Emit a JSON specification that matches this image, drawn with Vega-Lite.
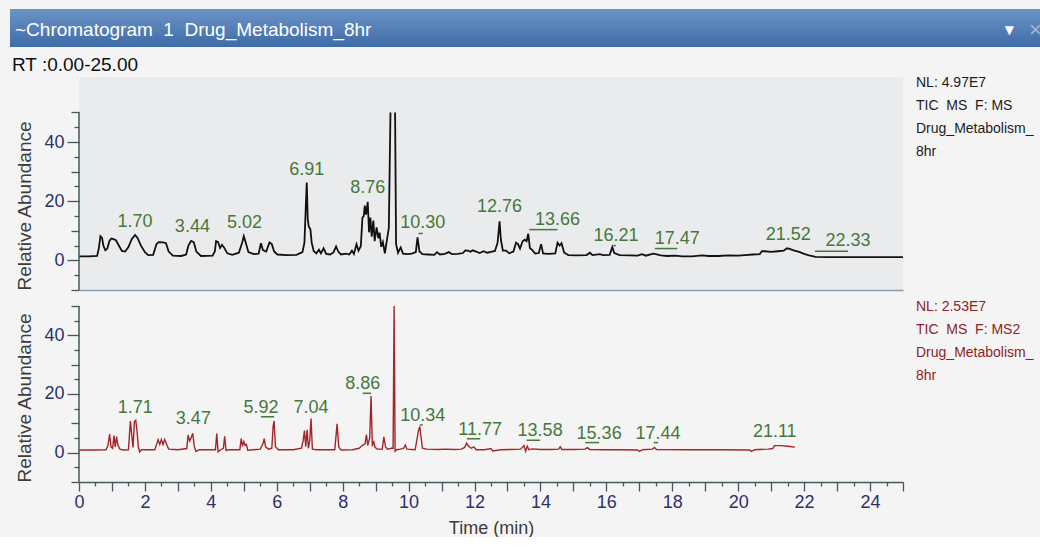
{
  "$schema": "https://vega.github.io/schema/vega-lite/v6.json",
  "background": "#f4f4f4",
  "padding": {"left": 9, "top": 9, "right": 0, "bottom": 0},
  "spacing": 9,
  "config": {
    "view": {"stroke": null},
    "font": "Liberation Sans",
    "axis": {"labelFont": "Liberation Sans", "titleFont": "Liberation Sans", "grid": false},
    "title": {"font": "Liberation Sans"},
    "text": {"font": "Liberation Sans"}
  },
  "datasets": {
    "header": [{"title": "~Chromatogram\u00a0 1\u00a0 Drug_Metabolism_8hr", "menu": "\u25bc", "close": "\u00d7"}],
    "topInfo": [
      {"line": 0, "text": "NL: 4.97E7"},
      {"line": 1, "text": "TIC\u00a0 MS\u00a0 F: MS"},
      {"line": 2, "text": "Drug_Metabolism_"},
      {"line": 3, "text": "8hr"}
    ],
    "bottomInfo": [
      {"line": 0, "text": "NL: 2.53E7"},
      {"line": 1, "text": "TIC\u00a0 MS\u00a0 F: MS2"},
      {"line": 2, "text": "Drug_Metabolism_"},
      {"line": 3, "text": "8hr"}
    ],
    "topPeaks": [
      {"rt": 1.70, "label": "1.70", "level": 11.4, "at": 1.70},
      {"rt": 3.44, "label": "3.44", "level": 9.7, "at": 3.44},
      {"rt": 5.02, "label": "5.02", "level": 10.8, "at": 5.02},
      {"rt": 6.91, "label": "6.91", "level": 28.9, "at": 6.91},
      {"rt": 8.76, "label": "8.76", "level": 22.7, "at": 8.76},
      {"rt": 10.30, "label": "10.30", "level": 10.8, "at": 10.43},
      {"rt": 12.76, "label": "12.76", "level": 16.5, "at": 12.76},
      {"rt": 13.66, "label": "13.66", "level": 12.1, "at": 14.52},
      {"rt": 16.21, "label": "16.21", "level": 6.7, "at": 16.29},
      {"rt": 17.47, "label": "17.47", "level": 5.7, "at": 18.15},
      {"rt": 21.52, "label": "21.52", "level": 7.0, "at": 21.52},
      {"rt": 22.33, "label": "22.33", "level": 4.8, "at": 23.33}
    ],
    "bottomPeaks": [
      {"rt": 1.71, "label": "1.71", "level": 13.6, "at": 1.71},
      {"rt": 3.47, "label": "3.47", "level": 9.7, "at": 3.47},
      {"rt": 5.92, "label": "5.92", "level": 13.6, "at": 5.52},
      {"rt": 7.04, "label": "7.04", "level": 13.6, "at": 7.04},
      {"rt": 8.86, "label": "8.86", "level": 21.6, "at": 8.61},
      {"rt": 10.34, "label": "10.34", "level": 10.8, "at": 10.43},
      {"rt": 11.77, "label": "11.77", "level": 6.1, "at": 12.17},
      {"rt": 13.58, "label": "13.58", "level": 5.6, "at": 13.99},
      {"rt": 15.36, "label": "15.36", "level": 4.8, "at": 15.78},
      {"rt": 17.44, "label": "17.44", "level": 4.8, "at": 17.57},
      {"rt": 21.11, "label": "21.11", "level": 5.2, "at": 21.11}
    ],
    "topTrace": [
      {"t":0,"v":1.4},{"t":0.3,"v":1.4},{"t":0.55,"v":1.5},{"t":0.6,"v":4},{"t":0.65,"v":8.2},{"t":0.7,"v":7.6},{"t":0.74,"v":5},{"t":0.8,"v":3.4},{"t":0.86,"v":4},{"t":0.92,"v":6.5},{"t":0.98,"v":7.4},{"t":1.05,"v":7.2},{"t":1.12,"v":6.8},{"t":1.2,"v":5.2},{"t":1.3,"v":3.2},{"t":1.4,"v":3},{"t":1.5,"v":4.5},{"t":1.6,"v":7.2},{"t":1.7,"v":8.6},{"t":1.78,"v":7.5},{"t":1.88,"v":5},{"t":2.0,"v":2.8},{"t":2.1,"v":1.8},{"t":2.25,"v":1.9},{"t":2.35,"v":5.5},{"t":2.42,"v":6.2},{"t":2.55,"v":6.1},{"t":2.64,"v":5.8},{"t":2.72,"v":3},{"t":2.85,"v":1.6},{"t":3.1,"v":1.5},{"t":3.25,"v":2},{"t":3.32,"v":5},{"t":3.4,"v":6.6},{"t":3.48,"v":6.2},{"t":3.56,"v":3},{"t":3.7,"v":1.5},{"t":4.05,"v":1.6},{"t":4.12,"v":3},{"t":4.16,"v":6.5},{"t":4.22,"v":6.2},{"t":4.28,"v":4.2},{"t":4.34,"v":5.3},{"t":4.4,"v":4.4},{"t":4.5,"v":2.4},{"t":4.65,"v":1.9},{"t":4.85,"v":2.6},{"t":4.95,"v":6},{"t":5.0,"v":8.2},{"t":5.06,"v":6},{"t":5.14,"v":2.8},{"t":5.3,"v":2.1},{"t":5.45,"v":2.3},{"t":5.52,"v":5.8},{"t":5.58,"v":3.5},{"t":5.68,"v":3},{"t":5.78,"v":6.1},{"t":5.85,"v":5.5},{"t":5.92,"v":3},{"t":6.02,"v":2},{"t":6.3,"v":1.8},{"t":6.6,"v":1.9},{"t":6.78,"v":2.8},{"t":6.84,"v":6},{"t":6.88,"v":18},{"t":6.91,"v":26.3},{"t":6.94,"v":14},{"t":6.97,"v":11.5},{"t":7.02,"v":10.5},{"t":7.06,"v":6},{"t":7.12,"v":3.2},{"t":7.2,"v":2.4},{"t":7.28,"v":3.6},{"t":7.34,"v":2.4},{"t":7.42,"v":4.1},{"t":7.5,"v":2.2},{"t":7.62,"v":2},{"t":7.72,"v":2.7},{"t":7.8,"v":4.7},{"t":7.87,"v":2.9},{"t":7.95,"v":2},{"t":8.1,"v":2.3},{"t":8.2,"v":2},{"t":8.28,"v":3.3},{"t":8.34,"v":2.2},{"t":8.42,"v":5.5},{"t":8.48,"v":3.3},{"t":8.55,"v":4.8},{"t":8.6,"v":14.5},{"t":8.64,"v":15},{"t":8.67,"v":18.5},{"t":8.71,"v":15.5},{"t":8.76,"v":19.8},{"t":8.8,"v":9.5},{"t":8.84,"v":14.5},{"t":8.88,"v":8},{"t":8.93,"v":13.5},{"t":8.97,"v":6.5},{"t":9.03,"v":11.2},{"t":9.08,"v":7.5},{"t":9.12,"v":9.4},{"t":9.17,"v":4.6},{"t":9.22,"v":6.2},{"t":9.28,"v":2.4},{"t":9.33,"v":6},{"t":9.4,"v":11},{"t":9.45,"v":50},{"t":9.52,"v":null},{"t":9.59,"v":50},{"t":9.62,"v":5.5},{"t":9.68,"v":2.6},{"t":9.76,"v":4.4},{"t":9.83,"v":2.3},{"t":9.95,"v":2.1},{"t":10.1,"v":2.3},{"t":10.22,"v":2.8},{"t":10.27,"v":7.8},{"t":10.33,"v":3},{"t":10.42,"v":2.1},{"t":10.6,"v":2},{"t":10.78,"v":1.9},{"t":10.86,"v":2.8},{"t":10.95,"v":2},{"t":11.1,"v":2.2},{"t":11.22,"v":2.8},{"t":11.32,"v":2.1},{"t":11.5,"v":2.2},{"t":11.65,"v":2.5},{"t":11.72,"v":3.4},{"t":11.8,"v":3.3},{"t":11.88,"v":2.9},{"t":11.95,"v":3.4},{"t":12.05,"v":3},{"t":12.15,"v":2.5},{"t":12.28,"v":3.1},{"t":12.38,"v":2.6},{"t":12.5,"v":2.9},{"t":12.62,"v":3.2},{"t":12.7,"v":6},{"t":12.76,"v":13.2},{"t":12.8,"v":7},{"t":12.86,"v":3.3},{"t":12.96,"v":3.3},{"t":13.05,"v":2.4},{"t":13.18,"v":3},{"t":13.26,"v":6},{"t":13.32,"v":5.5},{"t":13.38,"v":4},{"t":13.46,"v":6.5},{"t":13.52,"v":7},{"t":13.58,"v":6.5},{"t":13.63,"v":9},{"t":13.68,"v":4.2},{"t":13.76,"v":3.4},{"t":13.84,"v":2.3},{"t":13.95,"v":2.5},{"t":14.02,"v":5.5},{"t":14.08,"v":2.4},{"t":14.25,"v":2.2},{"t":14.45,"v":2.4},{"t":14.52,"v":6},{"t":14.58,"v":5},{"t":14.64,"v":5.8},{"t":14.72,"v":2.6},{"t":14.85,"v":1.8},{"t":15.1,"v":1.7},{"t":15.4,"v":1.8},{"t":15.5,"v":2.6},{"t":15.58,"v":1.8},{"t":15.8,"v":2.1},{"t":15.9,"v":1.8},{"t":16.1,"v":1.9},{"t":16.18,"v":4.5},{"t":16.24,"v":2.5},{"t":16.4,"v":1.8},{"t":16.7,"v":1.7},{"t":16.95,"v":1.6},{"t":17.08,"v":2.1},{"t":17.2,"v":1.6},{"t":17.42,"v":2.3},{"t":17.5,"v":2.1},{"t":17.65,"v":1.7},{"t":17.85,"v":1.5},{"t":18.1,"v":1.6},{"t":18.3,"v":1.4},{"t":18.6,"v":1.4},{"t":18.9,"v":1.7},{"t":19.1,"v":1.5},{"t":19.4,"v":1.5},{"t":19.7,"v":1.7},{"t":20.0,"v":1.6},{"t":20.2,"v":1.8},{"t":20.45,"v":2},{"t":20.65,"v":2.1},{"t":20.72,"v":3.1},{"t":20.8,"v":3.1},{"t":21.0,"v":2.9},{"t":21.2,"v":3.1},{"t":21.38,"v":3.3},{"t":21.48,"v":4.1},{"t":21.56,"v":3.9},{"t":21.68,"v":3.4},{"t":21.85,"v":2.9},{"t":22.0,"v":2.2},{"t":22.15,"v":1.7},{"t":22.35,"v":1.2},{"t":22.7,"v":1.1},{"t":23.2,"v":1.1},{"t":24.0,"v":1.1},{"t":25.0,"v":1.1}
    ],
    "bottomTrace": [
      {"t":0,"v":0.9},{"t":0.5,"v":0.9},{"t":0.82,"v":1},{"t":0.88,"v":2.5},{"t":0.93,"v":6.3},{"t":0.97,"v":2},{"t":1.02,"v":1.5},{"t":1.06,"v":5.8},{"t":1.1,"v":2},{"t":1.14,"v":5.5},{"t":1.18,"v":2.6},{"t":1.24,"v":1.2},{"t":1.35,"v":0.9},{"t":1.5,"v":1},{"t":1.53,"v":6},{"t":1.56,"v":10.8},{"t":1.6,"v":6},{"t":1.64,"v":1.8},{"t":1.68,"v":10.5},{"t":1.72,"v":11},{"t":1.76,"v":7.5},{"t":1.8,"v":2},{"t":1.84,"v":0.3},{"t":1.9,"v":1},{"t":2.3,"v":1},{"t":2.36,"v":3},{"t":2.4,"v":4.4},{"t":2.45,"v":2.8},{"t":2.5,"v":4.5},{"t":2.55,"v":2.8},{"t":2.6,"v":4.5},{"t":2.66,"v":2.8},{"t":2.72,"v":1.2},{"t":3.0,"v":1},{"t":3.27,"v":1.4},{"t":3.31,"v":6},{"t":3.36,"v":4},{"t":3.4,"v":5},{"t":3.45,"v":6.6},{"t":3.5,"v":2},{"t":3.55,"v":0.4},{"t":3.65,"v":1},{"t":4.14,"v":1},{"t":4.18,"v":6.5},{"t":4.22,"v":0.3},{"t":4.3,"v":1},{"t":4.38,"v":1.5},{"t":4.42,"v":5.6},{"t":4.46,"v":0.8},{"t":4.55,"v":1},{"t":4.88,"v":1},{"t":4.92,"v":4.8},{"t":4.96,"v":2.2},{"t":5.0,"v":3.8},{"t":5.04,"v":2.5},{"t":5.08,"v":2.8},{"t":5.12,"v":0.8},{"t":5.5,"v":1.2},{"t":5.58,"v":3},{"t":5.62,"v":4.8},{"t":5.66,"v":2},{"t":5.75,"v":1.2},{"t":5.85,"v":1.5},{"t":5.89,"v":9},{"t":5.92,"v":10.8},{"t":5.96,"v":2},{"t":6.05,"v":1},{"t":6.5,"v":1},{"t":6.75,"v":1.5},{"t":6.8,"v":4},{"t":6.84,"v":7.5},{"t":6.88,"v":2},{"t":6.92,"v":7.8},{"t":6.96,"v":1.5},{"t":7.0,"v":4},{"t":7.04,"v":11.6},{"t":7.08,"v":1.2},{"t":7.2,"v":1},{"t":7.76,"v":1},{"t":7.8,"v":6},{"t":7.83,"v":9.8},{"t":7.88,"v":2},{"t":7.95,"v":0.9},{"t":8.3,"v":1},{"t":8.5,"v":1.5},{"t":8.6,"v":2.5},{"t":8.68,"v":3},{"t":8.72,"v":6.2},{"t":8.76,"v":2.5},{"t":8.82,"v":5},{"t":8.86,"v":19.3},{"t":8.9,"v":2.2},{"t":8.94,"v":4},{"t":8.98,"v":1.8},{"t":9.05,"v":1.2},{"t":9.2,"v":1.2},{"t":9.25,"v":5.4},{"t":9.3,"v":2},{"t":9.36,"v":1.2},{"t":9.48,"v":1.5},{"t":9.53,"v":1.5},{"t":9.56,"v":50},{"t":9.59,"v":0.5},{"t":9.64,"v":1},{"t":9.75,"v":1.2},{"t":9.85,"v":1.5},{"t":9.9,"v":2.6},{"t":9.95,"v":1.2},{"t":10.2,"v":1},{"t":10.26,"v":5},{"t":10.3,"v":7.5},{"t":10.34,"v":8.9},{"t":10.38,"v":5},{"t":10.42,"v":1.5},{"t":10.55,"v":1.2},{"t":10.9,"v":1.1},{"t":11.1,"v":1.2},{"t":11.4,"v":1.1},{"t":11.6,"v":1.2},{"t":11.7,"v":1.8},{"t":11.76,"v":3.2},{"t":11.82,"v":2.2},{"t":11.9,"v":1.5},{"t":11.98,"v":2},{"t":12.05,"v":1},{"t":12.3,"v":1},{"t":12.5,"v":1.4},{"t":12.55,"v":0.6},{"t":12.8,"v":1},{"t":13.1,"v":1.1},{"t":13.4,"v":1.2},{"t":13.5,"v":2.4},{"t":13.55,"v":0.5},{"t":13.6,"v":2.2},{"t":13.65,"v":1},{"t":13.75,"v":1.3},{"t":14.0,"v":1.1},{"t":14.3,"v":1.1},{"t":14.55,"v":1.2},{"t":14.6,"v":2},{"t":14.65,"v":1.1},{"t":15.0,"v":1.1},{"t":15.35,"v":1.2},{"t":15.42,"v":1.7},{"t":15.5,"v":1.1},{"t":16.0,"v":1},{"t":16.5,"v":1},{"t":16.95,"v":0.9},{"t":17.0,"v":0.4},{"t":17.1,"v":1},{"t":17.4,"v":1.2},{"t":17.46,"v":1.8},{"t":17.52,"v":1.1},{"t":18.5,"v":1},{"t":19.5,"v":1},{"t":20.35,"v":0.9},{"t":20.4,"v":0.4},{"t":20.5,"v":1},{"t":20.9,"v":1.2},{"t":21.05,"v":1.4},{"t":21.1,"v":2.4},{"t":21.3,"v":2.4},{"t":21.5,"v":2.2},{"t":21.72,"v":1.9}
    ]
  },
  "vconcat": [
    {
      "width": 962,
      "height": 38,
      "data": {"name": "header"},
      "layer": [
        {
          "mark": {"type": "rect", "color": {"gradient": "linear", "x1": 0, "y1": 0, "x2": 0, "y2": 1, "stops": [{"offset": 0, "color": "#6c93c6"}, {"offset": 0.5, "color": "#5580b8"}, {"offset": 1, "color": "#3e6ba6"}]}},
          "encoding": {"x": {"datum": -0.07173, "type": "quantitative", "scale": {"domain": [0, 1], "nice": false, "zero": false}, "axis": null}, "x2": {"datum": 1}}
        },
        {
          "mark": {"type": "text", "align": "left", "baseline": "middle", "fontSize": 19, "color": "#ffffff", "dx": 5, "dy": 2},
          "encoding": {"text": {"field": "title"}, "x": {"datum": -0.07173, "type": "quantitative"}}
        },
        {
          "mark": {"type": "text", "align": "right", "baseline": "middle", "fontSize": 12, "color": "#ffffff", "dx": -27, "dy": 2, "font": "DejaVu Sans"},
          "encoding": {"text": {"field": "menu"}, "x": {"datum": 1, "type": "quantitative"}}
        },
        {
          "mark": {"type": "text", "align": "left", "baseline": "middle", "fontSize": 22, "color": "#a4b8d3", "dx": -12, "dy": 2},
          "encoding": {"text": {"field": "close"}, "x": {"datum": 1, "type": "quantitative"}}
        }
      ]
    },
    {
      "hconcat": [
        {
          "width": 824,
          "height": 213,
          "title": {"text": "RT :0.00-25.00", "anchor": "start", "frame": "bounds", "fontSize": 19, "fontWeight": "normal", "color": "#111111", "offset": 2, "dx": -4},
          "view": {"fill": "#eaebec", "stroke": null},
          "layer": [
            {
              "data": {"name": "topTrace"},
              "mark": {"type": "line", "color": "#111111", "strokeWidth": 1.8, "invalid": "break-paths-show-domains"},
              "encoding": {
                "x": {"field": "t", "type": "quantitative", "scale": {"domain": [0, 25], "nice": false},
                      "axis": {"title": null, "labels": false, "ticks": false, "domain": true, "domainColor": "#8d9ca6", "domainWidth": 1.5, "grid": false}},
                "y": {"field": "v", "type": "quantitative", "scale": {"domain": [-10, 62], "nice": false, "zero": false},
                      "axis": {"title": "Relative Abundance", "titleFontSize": 19, "titleFontWeight": "normal", "titleColor": "#3c3c3c", "titleAnchor": "start", "titlePadding": 9,
                               "values": [-10, -5, 0, 5, 10, 15, 20, 25, 30, 35, 40, 45, 50], "tickCount": 100,
                               "labelExpr": "datum.value % 20 === 0 ? format(datum.value, 'd') : ''",
                               "labelFontSize": {"condition": {"test": "datum.value % 20 === 0", "value": 18}, "value": 0},
                               "labelColor": "#2f2f6c", "labelPadding": 3, "labelOverlap": false, "labelBound": false,
                               "domain": false, "tickColor": "#46585e", "tickWidth": 1.3,
                               "tickSize": {"condition": [{"test": "datum.value % 20 === 0", "value": 12}, {"test": "datum.value % 10 === 0", "value": 8}], "value": 5}}}
              }
            },
            {
              "data": {"name": "topPeaks"},
              "mark": {"type": "text", "fontSize": 18, "color": "#46783c", "baseline": "alphabetic", "align": "center"},
              "encoding": {"x": {"field": "at", "type": "quantitative"}, "y": {"field": "level", "type": "quantitative"}, "text": {"field": "label"}}
            },
            {
              "data": {"name": "topPeaks"},
              "mark": {"type": "rule", "color": "#46783c", "strokeWidth": 1.5, "yOffset": 5},
              "encoding": {"x": {"field": "rt", "type": "quantitative"}, "x2": {"field": "at"}, "y": {"field": "level", "type": "quantitative"}}
            },
            {
              "data": {"values": [{}]},
              "mark": {"type": "rule", "color": "#46585e", "strokeWidth": 1.5},
              "encoding": {"x": {"datum": 0, "type": "quantitative"}, "y": {"datum": -10, "type": "quantitative"}, "y2": {"datum": 50}}
            }
          ]
        },
        {
          "width": 120,
          "height": 213,
          "data": {"name": "topInfo"},
          "mark": {"type": "text", "align": "left", "baseline": "middle", "fontSize": 14, "color": "#1c1c24", "dy": 6},
          "encoding": {
            "text": {"field": "text"},
            "x": {"datum": 0, "type": "quantitative", "scale": {"domain": [0, 1]}, "axis": null},
            "y": {"field": "line", "type": "quantitative", "scale": {"domain": [0, 9.26], "reverse": true, "nice": false}, "axis": null}
          }
        }
      ],
      "spacing": 13,
      "bounds": "flush"
    },
    {
      "hconcat": [
        {
          "width": 824,
          "height": 181,
          "view": {"fill": "#f4f4f4", "stroke": null},
          "layer": [
            {
              "data": {"name": "bottomTrace"},
              "mark": {"type": "line", "color": "#a3262b", "strokeWidth": 1.4},
              "encoding": {
                "x": {"field": "t", "type": "quantitative", "scale": {"domain": [0, 25], "nice": false},
                      "axis": {"title": "Time (min)", "titleFontSize": 18, "titleFontWeight": "normal", "titleColor": "#3c3c3c", "titlePadding": 8,
                               "values": [0,0.5,1,1.5,2,2.5,3,3.5,4,4.5,5,5.5,6,6.5,7,7.5,8,8.5,9,9.5,10,10.5,11,11.5,12,12.5,13,13.5,14,14.5,15,15.5,16,16.5,17,17.5,18,18.5,19,19.5,20,20.5,21,21.5,22,22.5,23,23.5,24,24.5,25], "tickCount": 200,
                               "labelExpr": "datum.value % 2 === 0 ? format(datum.value, 'd') : ''",
                               "labelFontSize": 18, "labelColor": "#2f2f6c", "labelPadding": 2, "labelOverlap": false, "labelFlush": false, "labelBound": false,
                               "domainColor": "#46585e", "domainWidth": 1.5, "tickColor": "#46585e", "tickWidth": 1.3,
                               "tickSize": {"condition": {"test": "datum.value % 1 === 0", "value": 9}, "value": 4}, "grid": false}},
                "y": {"field": "v", "type": "quantitative", "scale": {"domain": [-10, 51.7], "nice": false, "zero": false},
                      "axis": {"title": "Relative Abundance", "titleFontSize": 19, "titleFontWeight": "normal", "titleColor": "#3c3c3c", "titleAnchor": "start", "titlePadding": 9,
                               "values": [-10, -5, 0, 5, 10, 15, 20, 25, 30, 35, 40, 45, 50], "tickCount": 100,
                               "labelExpr": "datum.value % 20 === 0 ? format(datum.value, 'd') : ''",
                               "labelFontSize": {"condition": {"test": "datum.value % 20 === 0", "value": 18}, "value": 0},
                               "labelColor": "#2f2f6c", "labelPadding": 3, "labelOverlap": false, "labelBound": false,
                               "domain": false, "tickColor": "#46585e", "tickWidth": 1.3,
                               "tickSize": {"condition": [{"test": "datum.value % 20 === 0", "value": 12}, {"test": "datum.value % 10 === 0", "value": 8}], "value": 5}}}
              }
            },
            {
              "data": {"name": "bottomPeaks"},
              "mark": {"type": "text", "fontSize": 18, "color": "#46783c", "baseline": "alphabetic", "align": "center"},
              "encoding": {"x": {"field": "at", "type": "quantitative"}, "y": {"field": "level", "type": "quantitative"}, "text": {"field": "label"}}
            },
            {
              "data": {"name": "bottomPeaks"},
              "mark": {"type": "rule", "color": "#46783c", "strokeWidth": 1.5, "yOffset": 4},
              "encoding": {"x": {"field": "rt", "type": "quantitative"}, "x2": {"field": "at"}, "y": {"field": "level", "type": "quantitative"}}
            },
            {
              "data": {"values": [{}]},
              "mark": {"type": "rule", "color": "#46585e", "strokeWidth": 1.5},
              "encoding": {"x": {"datum": 0, "type": "quantitative"}, "y": {"datum": -10, "type": "quantitative"}, "y2": {"datum": 50}}
            }
          ]
        },
        {
          "width": 120,
          "height": 181,
          "data": {"name": "bottomInfo"},
          "mark": {"type": "text", "align": "left", "baseline": "middle", "fontSize": 14, "color": "#8e1f24", "dy": 6},
          "encoding": {
            "text": {"field": "text"},
            "x": {"datum": 0, "type": "quantitative", "scale": {"domain": [0, 1]}, "axis": null},
            "y": {"field": "line", "type": "quantitative", "scale": {"domain": [0, 7.87], "reverse": true, "nice": false}, "axis": null}
          }
        }
      ],
      "spacing": 13,
      "bounds": "flush"
    }
  ]
}
